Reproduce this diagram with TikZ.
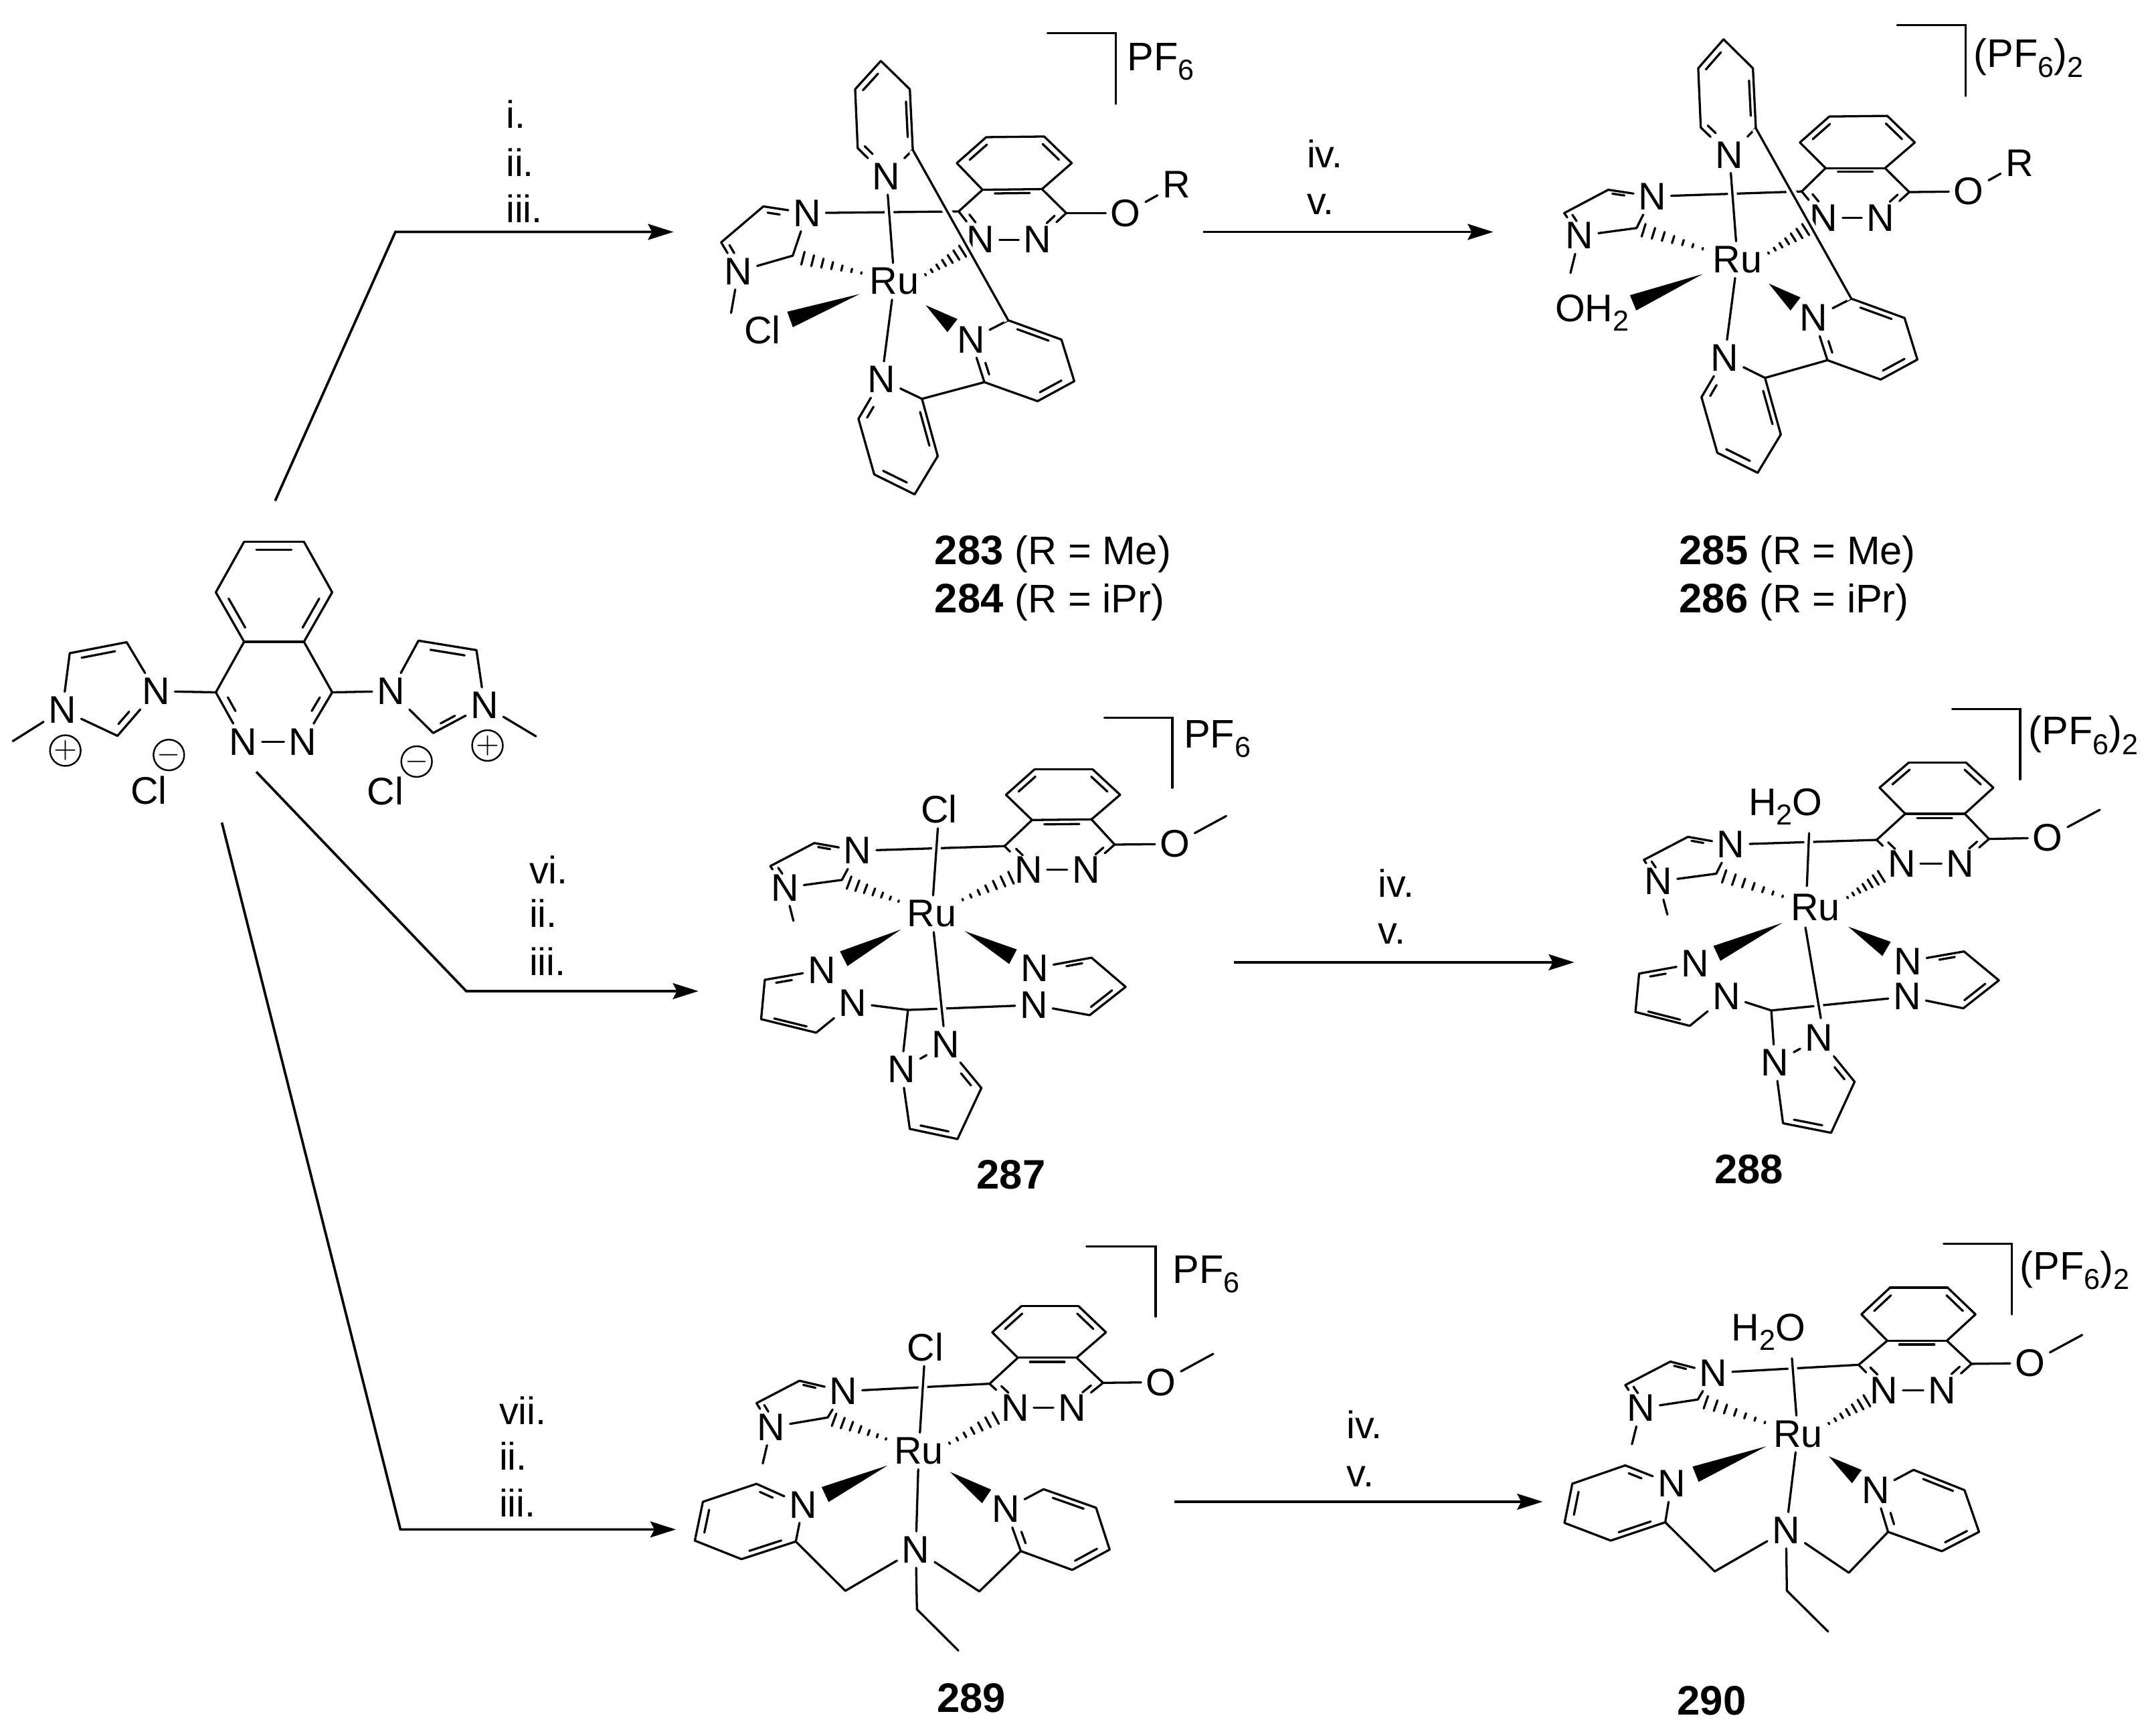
\documentclass[tikz,border=0pt]{standalone}
\usepackage{fontspec}
\setmainfont{Liberation Sans}
\usetikzlibrary{calc,arrows.meta}

\tikzset{
    bond/.style={line width=.8pt,line cap=round},
    over/.style={preaction={draw,white,line width=3.2pt}},
    atom/.style={inner sep=1.6pt,font=\fontsize{14}{16}\selectfont},
    ion/.style={inner sep=0pt,anchor=base west,font=\fontsize{14.5}{16}\selectfont},
    charge/.style={draw,circle,inner sep=0pt,minimum size=10pt,line width=.6pt,font=\fontsize{11}{12}\selectfont},
    reagent/.style={inner sep=0pt,anchor=west,text height=10pt,text depth=0pt,font=\fontsize{14}{16}\selectfont},
    cmpd/.style={inner sep=0pt,font=\fontsize{15}{18}\selectfont},
    route/.style={line width=.9pt,-{Stealth[length=9.3pt,width=5.8pt,inset=1.5pt]}}
}

\newcommand{\lo}[1]{\raisebox{-3.5pt}{\fontsize{10.5}{12}\selectfont #1}}
\newcommand{\rinfo}[1]{{\fontsize{14.5}{18}\selectfont (R = #1)}}
\newcommand{\verts}[1]{\foreach \n/\x/\y in {#1}{\coordinate (\n) at (\x,\y);}}
\newcommand{\atoms}[1]{\foreach \n/\x/\y/\lab in {#1}{\node[atom] (\n) at (\x,\y) {\lab};}}
\newcommand{\bonds}[1]{\foreach \p/\q in {#1}{\draw[bond] (\p) -- (\q);}}
% inner line of a double bond, pulled toward the ring centre
\newcommand{\dbl}[3]{\draw[bond] ($(#1)!.15!(#2)!.16!(#3)$) -- ($(#2)!.15!(#1)!.16!(#3)$);}
\newcommand{\dblN}[3]{\draw[bond] ($(#1)!.55!(#2)!.16!(#3)$) -- ($(#1)!.88!(#2)!.16!(#3)$);}
\newcommand{\wedgeb}[4]{
    \coordinate (ws) at ($(#1)!#3!(#2)$);
    \coordinate (we) at ($(#1)!#4!(#2)$);
    \fill (ws) -- ($(we)!3pt!90:(ws)$) -- ($(we)!3pt!-90:(ws)$) -- cycle;
}
\newcommand{\hashb}[4]{
    \foreach \k in {0,...,6}{
        \pgfmathsetmacro{\hf}{#3+(#4-#3)*\k/6}
        \pgfmathsetmacro{\hw}{.3+2.1*\k/6}
        \coordinate (hc) at ($(#1)!\hf!(#2)$);
        \draw[bond] ($(hc)!\hw pt!90:(#1)$) -- ($(hc)!\hw pt!-90:(#1)$);
    }
}
% imidazole and phthalazine arms, the same in all six complexes
\newcommand{\ligand}{
    \bonds{Nb/b1,b1/b2,b2/Nc,Nc/b3,b3/Nb,Nc/me,d1/d2,d2/d3,d3/d4,d4/d5,d5/d6,d6/d1,d2/d7,d7/Ne,Ne/Nd,Nd/d8,d8/d1,d7/O,O/R,Nb/d8}
    \dblN{Nb}{b1}{cb} \dblN{Nc}{b2}{cb}
    \dbl{d5}{d6}{cd} \dbl{d3}{d4}{cd} \dbl{d1}{d2}{ce}
    \dblN{Ne}{d7}{ce} \dblN{Nd}{d8}{ce}
}
\newcommand{\terpy}{
    \bonds{a1/a2,a2/a3,a3/Na,Na/a4,a4/a5,a5/a1,Nf/f1,f1/f2,f2/f3,f3/f4,f4/f5,f5/Nf,f5/g1,Ng/g1,g1/g2,g2/g3,g3/g4,g4/g5,g5/Ng}
    \dbl{a5}{a1}{ca} \dbl{a2}{a3}{ca} \dblN{Na}{a4}{ca}
    \dbl{f1}{f2}{cf} \dbl{f3}{f4}{cf} \dblN{Nf}{f5}{cf}
    \dblN{Ng}{g5}{cg} \dbl{g1}{g2}{cg} \dbl{g3}{g4}{cg}
    \draw[bond,over] (Na) -- (Ru);
    \draw[bond] (Ru) -- (Ng);
    \draw[bond,over] (a3) -- (f1);
}
\newcommand{\tpm}{
    \bonds{Nh/h1,h1/h2,h2/h3,h3/Ni,Nj/j1,j1/j2,j2/j3,j3/Nk,Ni/t0,t0/Nk,t0/Nl,Nl/Nm,Nm/l1,l1/l2,l2/l3,l3/Nl}
    \dblN{Nh}{h1}{ch} \dbl{h2}{h3}{ch}
    \dblN{Nj}{j1}{cj} \dbl{j2}{j3}{cj}
    \dblN{Nm}{l1}{cl} \dbl{l2}{l3}{cl}
}
\newcommand{\dpa}{
    \bonds{Nh/h1,h1/h2,h2/h3,h3/h4,h4/h5,h5/Nh,Nj/j1,j1/j2,j2/j3,j3/j4,j4/j5,j5/Nj,h5/k1,k1/Nk,Nk/k2,k2/j5,Nk/k3,k3/k4,Ru/Nk}
    \dblN{Nh}{h1}{ch} \dbl{h2}{h3}{ch} \dbl{h4}{h5}{ch}
    \dbl{j1}{j2}{cj} \dbl{j3}{j4}{cj} \dblN{Nj}{j5}{cj}
}

\begin{document}
\begin{tikzpicture}[x=.5pt,y=-.5pt]
    \useasboundingbox (0,0) rectangle (1568,1263.07);

    % Starting bis(imidazolium) salt
    \begin{scope}[name prefix=sm-,shift={(0,369.5)},x=.1336pt,y=-.08pt]
        \atoms{Na/425/835/N,Nb/170/920/N,Nc/1065/835/N,Nd/1320/900/N,Ne/663/1065/N,Nf/825/1065/N,
               ClA/405/1285/Cl,ClB/1050/1290/Cl}
        \verts{p1/665/155,p2/828/155,p3/905/385,p4/828/610,p5/665/610,p6/588/385,p7/905/840,p8/588/840,
               cp/745/385,cq/745/840,a1/345/612,a2/190/662,a3/320/1038,ca/270/830,
               c1/1140/605,c2/1298/648,c3/1180/1025,cc/1220/830,meA/35/1062,meB/1460/1040}
        \bonds{p1/p2,p2/p3,p3/p4,p4/p5,p5/p6,p6/p1,p4/p7,p7/Nf,Nf/Ne,Ne/p8,p8/p5,
               Na/a1,a1/a2,a2/Nb,Nb/a3,a3/Na,Na/p8,Nb/meA,
               Nc/c1,c1/c2,c2/Nd,Nd/c3,c3/Nc,Nc/p7,Nd/meB}
        \dbl{p1}{p2}{cp} \dbl{p3}{p4}{cp} \dbl{p5}{p6}{cp}
        \dblN{Ne}{p8}{cq} \dblN{Nf}{p7}{cq}
        \dbl{a1}{a2}{ca} \dblN{Na}{a3}{ca}
        \dbl{c1}{c2}{cc} \dblN{Nd}{c3}{cc}
        \node[charge] (plusA) at (178,1105) {$+$};
        \node[charge] (plusB) at (1328,1082) {$+$};
        \node[charge] (minusA) at (460,1125) {$-$};
        \node[charge] (minusB) at (1135,1155) {$-$};
    \end{scope}

    % Complexes 283/284
    \begin{scope}[name prefix=m283-,shift={(477.4,0)},x=.1336pt,y=-.12115pt]
        \atoms{Ru/650/845/Ru,Na/628/530/N,Nb/412/640/N,Nc/225/815/N,Nd/885/720/N,Ne/1040/720/N,
               Nf/858/1020/N,Ng/615/1140/N,O/1280/640/O,R/1418/555/R,Cl/290/990/Cl}
        \verts{a1/613/183,a2/692/268,a3/700/450,a4/550/445,a5/543/268,ca/620/355,
               b1/293/620,b2/178/728,b3/373/768,cb/290/725,me/205/940,rh/650/884,
               d1/890/570,d2/1052/568,d3/1133/490,d4/1058/410,d5/900/412,d6/820/490,cd/975/490,
               d7/1118/640,d8/825/635,ce/970/640,
               f1/960/962,f2/1105/1020,f3/1140/1145,f4/1040/1205,f5/895/1148,cf/1000/1085,
               g1/725/1198,g2/768/1370,g3/705/1485,g4/595/1425,g5/552/1258,cg/660/1310,
               br1/1067/100,br2/1253/100,br3/1253/312}
        \ligand
        \hashb{Ru}{b3}{.325}{.9}
        \hashb{rh}{Nd}{.36}{.79}
        \terpy
        \wedgeb{Ru}{Cl}{.264}{.79}
        \wedgeb{Ru}{Nf}{.41}{.76}
        \draw[bond] (br1) -- (br2) -- (br3);
        \node[ion] (ion) at (1283,212) {PF\lo{6}};
    \end{scope}

    % Complexes 285/286
    \begin{scope}[name prefix=m285-,shift={(1091.1,0)},x=.1336pt,y=-.12115pt]
        \atoms{Ru/650/780/Ru,Na/628/465/N,Nb/418/590/N,Nc/220/708/N,Nd/885/655/N,Ne/1040/655/N,
               Nf/858/955/N,Ng/615/1075/N,O/1280/575/O,R/1418/490/R}
        \verts{a1/612/118,a2/692/205,a3/700/385,a4/550/383,a5/543/205,ca/620/295,
               b1/298/570,b2/178/640,b3/375/685,cb/290/630,me/195/820,rh/650/819,aw/255/960,
               d1/890/505,d2/1052/505,d3/1133/428,d4/1058/348,d5/900/350,d6/820/428,cd/975/428,
               d7/1118/577,d8/825/575,ce/970/575,
               f1/960/897,f2/1105/955,f3/1140/1080,f4/1040/1140,f5/895/1082,cf/1000/1020,
               g1/725/1135,g2/768/1305,g3/705/1420,g4/595/1360,g5/552/1193,cg/660/1245,
               br1/1085/75,br2/1271/75,br3/1271/288}
        \ligand
        \hashb{Ru}{b3}{.345}{.93}
        \hashb{rh}{Nd}{.36}{.79}
        \terpy
        \wedgeb{Ru}{aw}{.24}{.72}
        \wedgeb{Ru}{Nf}{.41}{.76}
        \node[ion,font=\fontsize{14}{16}\selectfont] (aq) at (152,965) {OH\lo{2}};
        \draw[bond] (br1) -- (br2) -- (br3);
        \node[ion] (ion) at (1292,203) {(PF\lo{6})\lo{2}};
    \end{scope}

    % Complex 287
    \begin{scope}[name prefix=m287-,shift={(526,516.3)},x=.1336pt,y=-.11185pt]
        \atoms{Ru/570/665/Ru,Cl/590/325/Cl,Nb/368/460/N,Nc/170/580/N,Nd/833/522/N,Ne/990/522/N,O/1232/438/O,
               Nh/270/848/N,Ni/355/955/N,Nj/850/842/N,Nk/848/962/N,Nl/487/1172/N,Nm/607/1090/N}
        \verts{b1/250/435,b2/130/510,b3/325/555,cb/240/500,me/193/688,R/1372/347,
               d1/843/360,d2/1005/358,d3/1083/278,d4/1008/195,d5/850/195,d6/772/278,cd/925/278,
               d7/1068/440,d8/768/445,ce/925/450,
               h1/115/880,h2/105/1008,h3/255/1052,ch/210/960,
               j1/1005/808,j2/1098/903,j3/1000/995,cj/945/900,t0/505/978,
               l1/705/1232,l2/640/1398,l3/510/1365,cl/590/1270,
               br1/1040/27,br2/1225/27,br3/1225/255}
        \ligand
        \tpm
        \draw[bond,over] (Cl) -- (Ru);
        \draw[bond,over] (Ru) -- (Nm);
        \hashb{Ru}{b3}{.37}{.92}
        \hashb{Ru}{Nd}{.32}{.82}
        \wedgeb{Ru}{Nh}{.28}{.8}
        \wedgeb{Ru}{Nj}{.32}{.79}
        \draw[bond] (br1) -- (br2) -- (br3);
        \node[ion] (ion) at (1255,125) {PF\lo{6}};
    \end{scope}

    % Complex 288
    \begin{scope}[name prefix=m288-,shift={(1149.1,501.7)},x=.1336pt,y=-.11185pt]
        \atoms{Ru/645/710/Ru,Nb/415/505/N,Nc/218/625/N,Nd/880/568/N,Ne/1040/568/N,O/1278/483/O,
               Nh/318/892/N,Ni/403/998/N,Nj/897/885/N,Nk/895/1000/N,Nl/535/1215/N,Nm/655/1135/N}
        \verts{b1/298/480,b2/178/555,b3/375/600,cb/285/545,me/242/733,R/1420/392,rh/650/739,
               d1/890/405,d2/1052/405,d3/1130/320,d4/1055/238,d5/900/238,d6/820/320,cd/975/320,
               d7/1118/487,d8/812/490,ce/965/490,
               h1/165/925,h2/155/1050,h3/303/1095,ch/255/1005,
               j1/1050/853,j2/1145/947,j3/1048/1038,cj/990/945,t0/525/1045,
               l1/752/1277,l2/688/1443,l3/557/1412,cl/640/1315,
               ax/628/468,ax2/622/640,ru1/618/775,ru2/660/1070,
               br1/1018/65,br2/1203/65,br3/1203/293}
        \ligand
        \tpm
        \draw[bond,over] (ax) -- (ax2);
        \draw[bond,over] (ru1) -- (ru2);
        \hashb{Ru}{b3}{.33}{.92}
        \hashb{rh}{Nd}{.36}{.76}
        \wedgeb{Ru}{Nh}{.275}{.82}
        \wedgeb{Ru}{Nj}{.357}{.77}
        \node[ion,font=\fontsize{14}{16}\selectfont] (aq) at (462,410) {H\lo{2}O};
        \draw[bond] (br1) -- (br2) -- (br3);
        \node[ion] (ion) at (1225,180) {(PF\lo{6})\lo{2}};
    \end{scope}

    % Complex 289
    \begin{scope}[name prefix=m289-,shift={(487.1,906)},x=.1336pt,y=-.10875pt]
        \atoms{Ru/680/690/Ru,Cl/698/342/Cl,Nb/475/490/N,Nc/278/610/N,Nd/942/545/N,Ne/1098/545/N,O/1340/460/O,
               Nh/365/870/N,Nj/917/885/N,Nk/672/1020/N}
        \verts{b1/355/455,b2/238/530,b3/432/578,cb/345/520,me/255/732,R/1482/365,rh/680/720,
               d1/950/378,d2/1110/378,d3/1190/293,d4/1115/205,d5/960/205,d6/880/293,cd/1035/293,
               d7/1182/462,d8/873/465,ce/1030/465,
               h1/238/800,h2/92/860,h3/70/990,h4/197/1052,h5/345/993,ch/215/925,
               j1/1020/818,j2/1163/880,j3/1200/1020,j4/1098/1088,j5/958/1025,cj/1065/950,
               k1/480/1158,k2/845/1160,k3/675/1220,k4/788/1358,
               br1/1137/5,br2/1325/5,br3/1325/240}
        \ligand
        \dpa
        \draw[bond,over] (Cl) -- (Ru);
        \hashb{Ru}{b3}{.36}{.93}
        \hashb{rh}{Nd}{.32}{.8}
        \wedgeb{Ru}{Nh}{.27}{.81}
        \wedgeb{Ru}{Nj}{.36}{.78}
        \draw[bond] (br1) -- (br2) -- (br3);
        \node[ion] (ion) at (1370,128) {PF\lo{6}};
    \end{scope}

    % Complex 290
    \begin{scope}[name prefix=m290-,shift={(1120.3,896.3)},x=.14275pt,y=-.11695pt]
        \atoms{Ru/660/630/Ru,Nb/445/440/N,Nc/260/550/N,Nd/880/495/N,Ne/1028/495/N,O/1252/410/O,
               Nh/338/785/N,Nj/858/805/N,Nk/630/930/N}
        \verts{b1/335/405,b2/220/478,b3/405/523,cb/325/465,me/237/662,R/1385/322,rh/660/655,
               d1/888/340,d2/1040/340,d3/1113/258,d4/1042/175,d5/895/175,d6/822/258,cd/968/258,
               d7/1103/412,d8/815/415,ce/960/415,
               h1/220/728,h2/85/785,h3/65/907,h4/183/962,h5/322/905,ch/200/845,
               j1/955/742,j2/1085/805,j3/1122/935,j4/1027/995,j5/890/935,cj/1005/870,
               k1/448/1058,k2/790/1062,k3/632/1118,k4/737/1245,ax/645/395,
               br1/1032/38,br2/1205/38,br3/1205/258}
        \ligand
        \dpa
        \draw[bond,over] (ax) -- (Ru);
        \hashb{Ru}{b3}{.33}{.92}
        \hashb{rh}{Nd}{.36}{.8}
        \wedgeb{Ru}{Nh}{.25}{.81}
        \wedgeb{Ru}{Nj}{.4}{.76}
        \node[ion,font=\fontsize{14}{16}\selectfont] (aq) at (490,340) {H\lo{2}O};
        \draw[bond] (br1) -- (br2) -- (br3);
        \node[ion] (ion) at (1225,150) {(PF\lo{6})\lo{2}};
    \end{scope}

    % Compound numbers
    \node[cmpd,anchor=base west] (l283) at (680,411) {\textbf{283} \rinfo{Me}};
    \node[cmpd,anchor=base west] (l284) at (680,446) {\textbf{284} \rinfo{iPr}};
    \node[cmpd,anchor=base west] (l285) at (1222,411) {\textbf{285} \rinfo{Me}};
    \node[cmpd,anchor=base west] (l286) at (1222,446) {\textbf{286} \rinfo{iPr}};
    \foreach \num/\x/\y in {287/736/855,288/1273/851,289/707/1236,290/1246/1238}{
        \node[cmpd] (l\num) at (\x,\y) {\textbf{\num}};
    }

    % Routes
    \coordinate (s1) at (200.3,364.5);
    \coordinate (k1) at (287.8,168.8);
    \coordinate (e1) at (490.3,168.8);
    \coordinate (s2) at (186.6,561.8);
    \coordinate (k2) at (339.4,721.4);
    \coordinate (e2) at (508.4,721.4);
    \coordinate (s3) at (161.5,598.7);
    \coordinate (k3) at (291.5,1113.2);
    \coordinate (e3) at (492,1113.2);
    \draw[route] (s1) -- (k1) -- (e1);
    \draw[route] (s2) -- (k2) -- (e2);
    \draw[route] (s3) -- (k3) -- (e3);
    \coordinate (s4) at (876,168.8);
    \coordinate (e4) at (1087,168.8);
    \coordinate (s5) at (898,700.4);
    \coordinate (e5) at (1146,700.4);
    \coordinate (s6) at (855,1093);
    \coordinate (e6) at (1123,1093);
    \foreach \i in {4,5,6}{
        \draw[route] (s\i) -- (e\i);
    }

    % Reagent labels
    \foreach \name/\x/\y/\lab in {
        ra/368/83.5/i.,rb/368/118.3/ii.,rc/368/152/iii.,
        rd/385/633/vi.,re/385/665/ii.,rf/385/700/iii.,
        rg/363/1027/vii.,rh/363/1060/ii.,ri/363/1094/iii.,
        rj/951/112/iv.,rk/951/146/v.,
        rl/1003/643/iv.,rm/1003/677/v.,
        rn/980/1037/iv.,ro/980/1072/v.}{
        \node[reagent] (\name) at (\x,\y) {\lab};
    }
\end{tikzpicture}
\end{document}
